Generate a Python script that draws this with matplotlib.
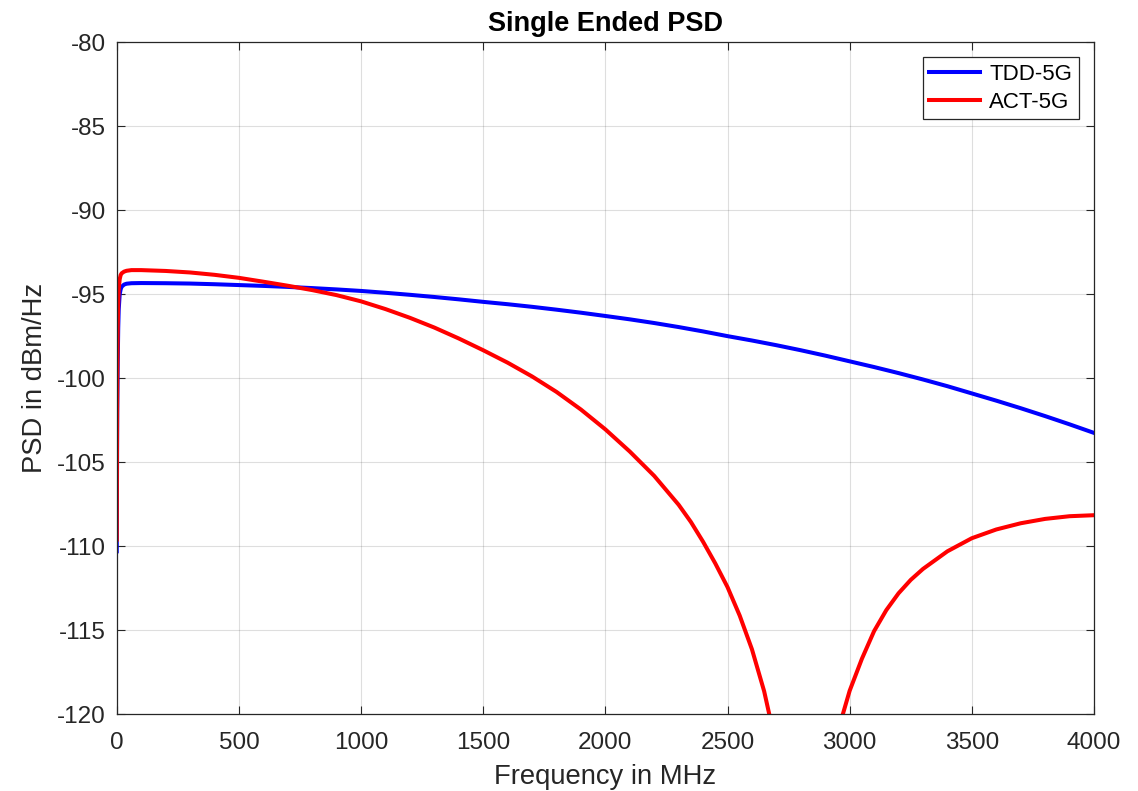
import matplotlib
matplotlib.use("Agg")
import matplotlib.pyplot as plt

# Frequency (MHz) and PSD (dBm/Hz) values
tdd_freq = [0, 1, 2, 4, 6, 8, 12, 16, 20, 30, 40, 60, 100, 200, 300, 400, 500,
            600, 700, 800, 900, 1000, 1100, 1200, 1300, 1400, 1500, 1600, 1700,
            1800, 1900, 2000, 2100, 2200, 2300, 2400, 2500, 2600, 2700, 2800,
            2900, 3000, 3100, 3200, 3300, 3400, 3500, 3600, 3700, 3800, 3900,
            4000]
tdd_psd = [-110.3, -106.0, -102.0, -99.0, -97.0, -95.9, -95.0, -94.7, -94.55,
           -94.42, -94.37, -94.34, -94.33, -94.34, -94.36, -94.40, -94.45,
           -94.50, -94.56, -94.63, -94.71, -94.80, -94.91, -95.03, -95.16,
           -95.30, -95.45, -95.59, -95.745, -95.915, -96.095, -96.29, -96.49,
           -96.71, -96.95, -97.21, -97.49, -97.75, -98.03, -98.33, -98.65,
           -98.99, -99.33, -99.69, -100.07, -100.47, -100.90, -101.33,
           -101.78, -102.25, -102.74, -103.25]

act_freq = [0, 1, 2, 4, 6, 8, 12, 16, 20, 30, 40, 60, 100, 200, 300, 400, 500,
            600, 700, 800, 900, 1000, 1100, 1200, 1300, 1400, 1500, 1600, 1700,
            1800, 1900, 2000, 2100, 2200, 2300, 2350, 2400, 2450, 2500, 2550,
            2600, 2650, 2700, 2750, 2800, 2850, 2900, 2950, 3000, 3050, 3100,
            3150, 3200, 3250, 3300, 3400, 3500, 3600, 3700, 3800, 3900, 4000]
act_psd = [-109.6, -104.0, -100.0, -97.0, -95.5, -94.7, -94.1, -93.85, -93.75,
           -93.65, -93.60, -93.56, -93.56, -93.61, -93.70, -93.84, -94.02,
           -94.25, -94.49, -94.75, -95.05, -95.42, -95.88, -96.40, -96.98,
           -97.63, -98.33, -99.07, -99.89, -100.81, -101.86, -103.04,
           -104.36, -105.81, -107.53, -108.55, -109.73, -111.02, -112.43,
           -114.13, -116.13, -118.63, -121.90, -126.00, -133.00, -133.00,
           -126.50, -121.10, -118.60, -116.70, -115.05, -113.80, -112.80,
           -112.00, -111.35, -110.30, -109.52, -109.00, -108.63, -108.37,
           -108.21, -108.15]

series_labels = ["TDD-5G", "ACT-5G"]
x_ticks = [0, 500, 1000, 1500, 2000, 2500, 3000, 3500, 4000]
y_ticks = [-120, -115, -110, -105, -100, -95, -90, -85, -80]

plt.rcParams['font.family'] = ['Liberation Sans', 'DejaVu Sans']
plt.rcParams['axes.unicode_minus'] = False

dark = (0.15, 0.15, 0.15)

fig = plt.figure(figsize=(11.38, 7.91), dpi=100)
ax = fig.add_axes([0.1026, 0.0970, 0.8587, 0.8495])

ax.plot(tdd_freq, tdd_psd, color=(0, 0, 1), lw=2.9, label=series_labels[0])
ax.plot(act_freq, act_psd, color=(1, 0, 0), lw=2.9, label=series_labels[1])

ax.set_xlim(0, 4000)
ax.set_ylim(-120, -80)
ax.set_xticks(x_ticks)
ax.set_yticks(y_ticks)
ax.grid(True, color=dark, alpha=0.15, lw=0.8)
ax.tick_params(direction='in', top=True, right=True, length=6, width=0.8,
               labelsize=17.5, colors=dark, pad=8)
ax.tick_params(axis='x', pad=13)
for s in ax.spines.values():
    s.set_color(dark)
    s.set_linewidth(0.9)

ax.set_xlabel("Frequency in MHz", fontsize=19.7, color=dark, labelpad=7)
ax.set_ylabel("PSD in dBm/Hz", fontsize=19.7, color=dark, labelpad=6)
ax.set_title("Single Ended PSD", fontsize=19.5, fontweight='bold', pad=8)

leg = ax.legend(loc='upper right', fontsize=16, fancybox=False, framealpha=1,
                edgecolor=dark, handlelength=2.3, borderpad=0.3,
                labelspacing=0.3, handletextpad=0.4, borderaxespad=0.68)
leg.get_frame().set_linewidth(0.9)

fig.savefig("out.png", dpi=100)
